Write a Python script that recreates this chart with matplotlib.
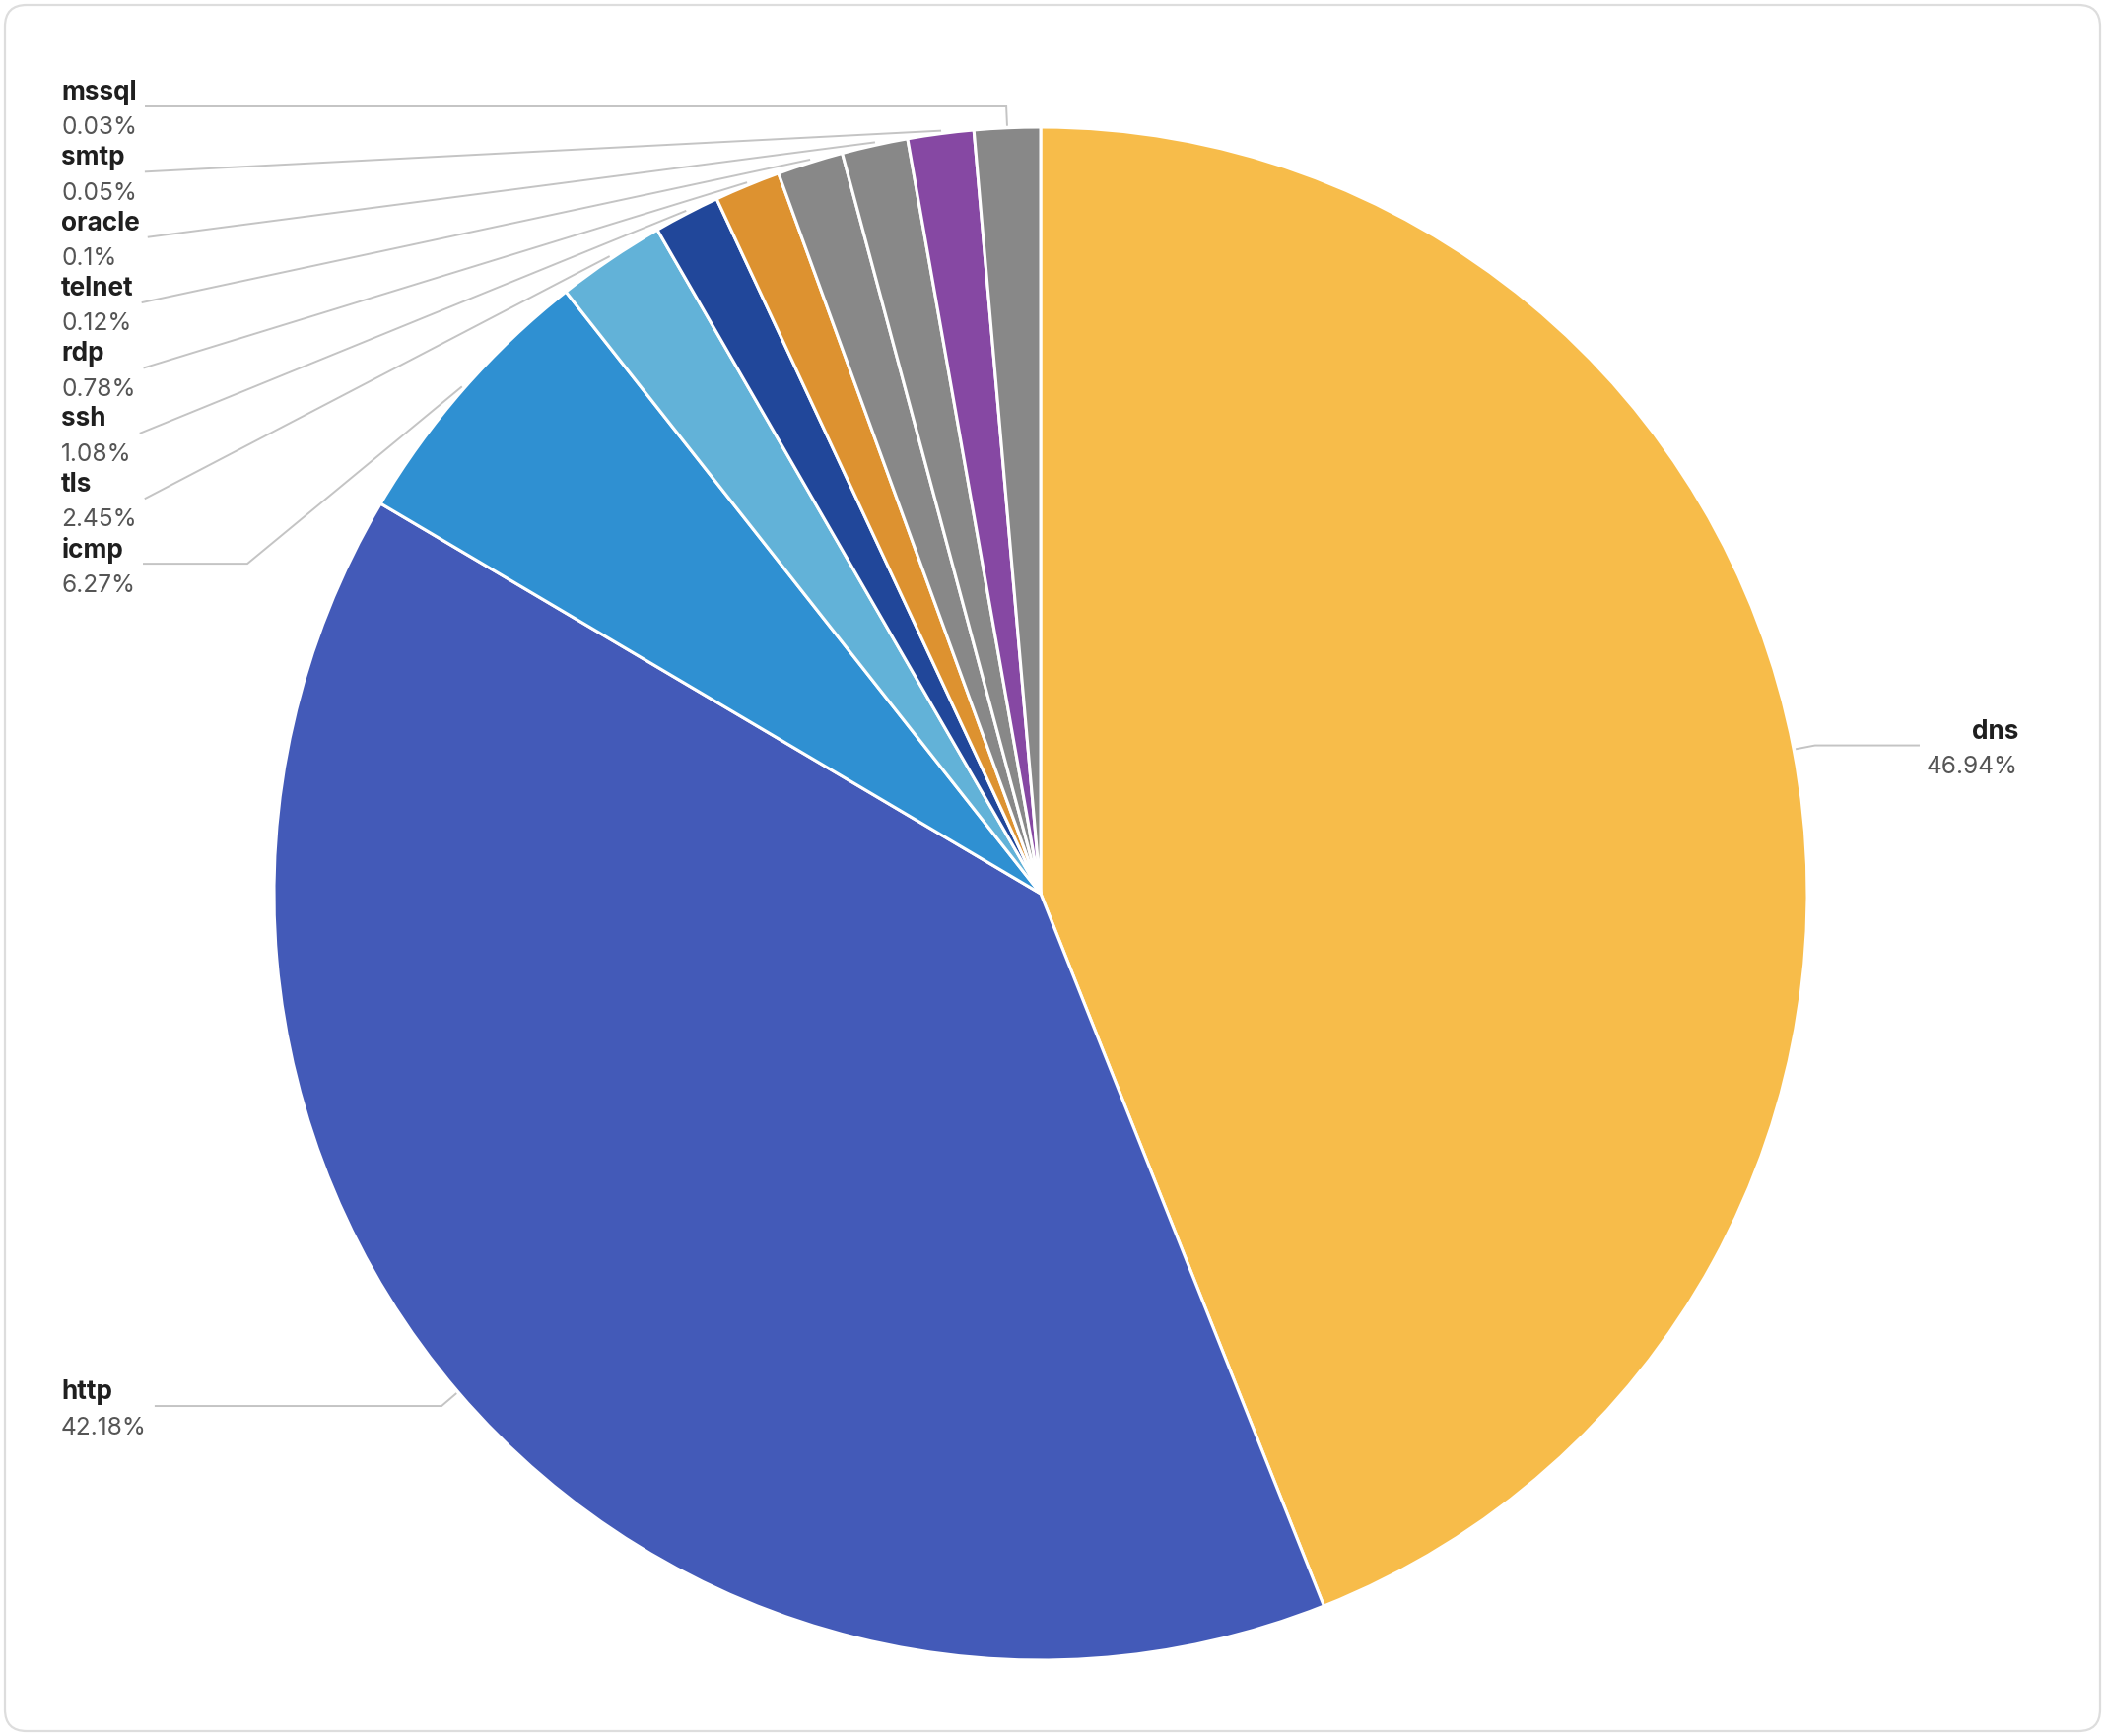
import matplotlib
matplotlib.use("Agg")
import matplotlib.pyplot as plt
from matplotlib.patches import FancyBboxPatch
import numpy as np

# protocol share (%), clockwise from 12 o'clock
protocols = ["dns", "http", "icmp", "tls", "ssh", "rdp", "telnet", "oracle", "smtp", "mssql"]
shares = [46.94, 42.18, 6.27, 2.45, 1.08, 0.78, 0.12, 0.1, 0.05, 0.03]
colors = ["#F7BC4A", "#435AB8", "#2F90D2", "#62B2D8", "#21479A",
          "#DD9230", "#888888", "#888888", "#8648A3", "#888888"]

W, H = 2136, 1762
CX, CY, R = 1056, 907, 778          # pixel coords, y from top
MIN_ANGLE = 5.0                      # degrees, like echarts minAngle

plt.rcParams["font.family"] = ["Inter", "DejaVu Sans"]
NAME_COLOR = "#1f1f1f"
PCT_COLOR = "#555555"
LINE_COLOR = "#c4c4c4"
NAME_FS = 18.8
PCT_FS = 17.6


def py(y):
    # pixel y (from top) -> data y
    return H - y


def slice_angles(vals):
    # small slices get MIN_ANGLE, the rest share what's left
    total = sum(vals)
    raw = [v / total * 360 for v in vals]
    small = [a < MIN_ANGLE for a in raw]
    rest = 360 - MIN_ANGLE * sum(small)
    big_sum = sum(v for v, s in zip(vals, small) if not s)
    return [MIN_ANGLE if s else v / big_sum * rest for v, s in zip(vals, small)]


fig = plt.figure(figsize=(W / 100, H / 100), dpi=100)
ax = fig.add_axes([0, 0, 1, 1])
ax.set_xlim(0, W)
ax.set_ylim(0, H)
ax.set_aspect("equal")
ax.axis("off")

# card border
ax.add_patch(FancyBboxPatch((5, 5), W - 10, H - 10,
                            boxstyle="round,pad=0,rounding_size=22",
                            facecolor="white", edgecolor="#dddddd", linewidth=1.6, zorder=0))

wedges, _ = ax.pie(slice_angles(shares), colors=colors, startangle=90, counterclock=False,
                   center=(CX, py(CY)), radius=R,
                   wedgeprops={"edgecolor": "white", "linewidth": 2.2})
ax.set_xlim(0, W)
ax.set_ylim(0, H)

mids = {}
for name, w in zip(protocols, wedges):
    mids[name] = np.deg2rad((w.theta1 + w.theta2) / 2)


def edge_point(name, extra=3):
    a = mids[name]
    return CX + (R + extra) * np.cos(a), CY - (R + extra) * np.sin(a)


def draw_label(name, pct, x, line_y, ha):
    ax.text(x, py(line_y - 14), name, ha=ha, va="center", fontsize=NAME_FS,
            fontweight="bold", color=NAME_COLOR)
    ax.text(x, py(line_y + 22), f"{pct:g}%", ha=ha, va="center", fontsize=PCT_FS,
            color=PCT_COLOR)


renderer = fig.canvas.get_renderer()


def label_box_width(name, pct):
    ws = []
    for s, fw, fs in [(name, "bold", NAME_FS), (f"{pct:g}%", "normal", PCT_FS)]:
        t = ax.text(0, 0, s, fontsize=fs, fontweight=fw)
        ws.append(t.get_window_extent(renderer).width)
        t.remove()
    return max(ws)


def line(pts):
    xs = [p[0] for p in pts]
    ys = [py(p[1]) for p in pts]
    ax.plot(xs, ys, color=LINE_COLOR, linewidth=1.4, solid_joinstyle="miter", zorder=1)


# big slices: radial stub then horizontal
for name in ["dns", "http"]:
    pct = shares[protocols.index(name)]
    p1 = edge_point(name)
    p2 = edge_point(name, 22)
    bw = label_box_width(name, pct)
    if name == "dns":
        x_text = 2048
        p3 = (x_text - bw - 8, p2[1])
        draw_label(name, pct, x_text, p2[1], "right")
    else:
        x_text = 62
        p3 = (x_text + bw + 9, p2[1])
        draw_label(name, pct, x_text, p2[1], "left")
    line([p1, p2, p3])

# small slices: stacked labels down the left edge
left_names = ["mssql", "smtp", "oracle", "telnet", "rdp", "ssh", "tls", "icmp"]
for i, name in enumerate(left_names):
    pct = shares[protocols.index(name)]
    ly = 108 + 66.3 * i
    bw = label_box_width(name, pct)
    p1 = edge_point(name)
    p3 = (62 + bw + 9, ly)
    if name == "mssql":
        p2 = (edge_point(name, 22)[0], ly)
        pts = [p1, p2, p3]
    elif name == "icmp":
        pts = [p1, (p3[0] + 105, ly), p3]
    else:
        pts = [p1, p3]
    line(pts)
    draw_label(name, pct, 62, ly, "left")

fig.savefig("out.png", dpi=100, facecolor="white")
